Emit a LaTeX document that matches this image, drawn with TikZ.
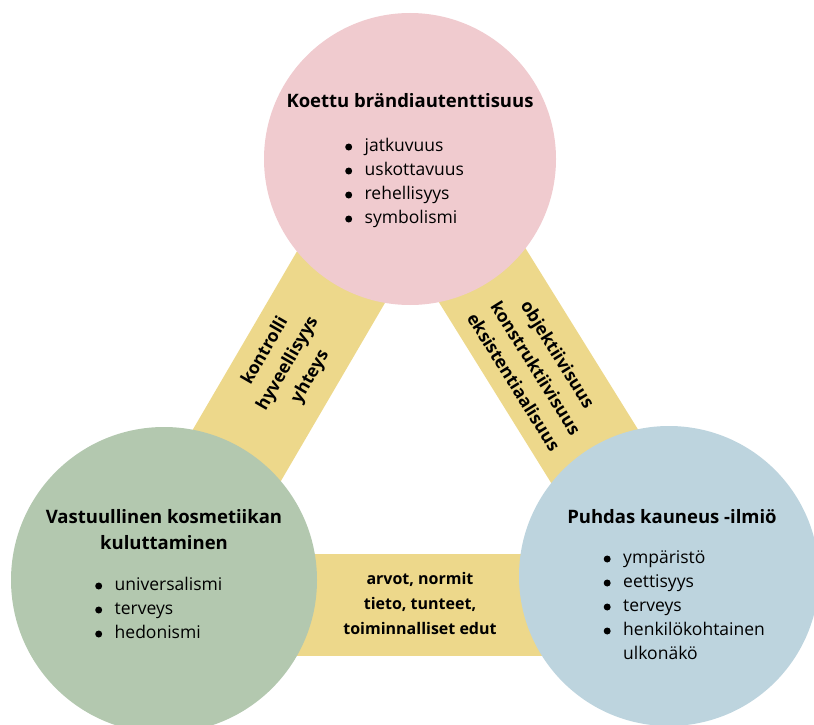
\documentclass[tikz,border=0pt]{standalone}
\usepackage{fontspec}
\setmainfont{Open Sans}
\usetikzlibrary{backgrounds}

\definecolor{brandpink}{HTML}{F0CBCF}
\definecolor{consgreen}{HTML}{B3C8AF}
\definecolor{beautyblue}{HTML}{BDD4DE}
\definecolor{bandyellow}{HTML}{EDD88B}

\tikzset{
  circ/.style={circle, minimum size=#1, inner sep=0pt},
  band/.style={draw=bandyellow, line width=102pt},
  title/.style={font=\fontsize{18.5}{26}\selectfont\bfseries, align=center, inner sep=0pt},
  bandtext/.style={font=\fontsize{17.5}{26}\selectfont\bfseries, align=center, inner sep=0pt},
  list/.style={font=\fontsize{17.5}{24}\selectfont, inner sep=0pt, anchor=west},
}
\newcommand{\dotitem}{\tikz[baseline=-4.8pt]\fill (0,0) circle (3.5pt);}
\newcommand{\blist}[1]{\begin{tabular}{@{}l@{\hspace{12.5pt}}l@{}}#1\end{tabular}}

\begin{document}
\begin{tikzpicture}[x=1pt,y=-1pt]
        \path[use as bounding box, clip] (0,0) rectangle (814,725);
        % Circles
        \node[circ=292pt, fill=brandpink] (brand) at (410,159) {};
        \node[circ=306pt, fill=consgreen] (cons) at (164,580) {};
        \node[circ=300pt, fill=beautyblue] (beauty) at (669,576) {};
        % Bands
        \coordinate (bandL) at ([yshift=-25pt]cons.center);
        \coordinate (bandR) at (bandL -| beauty.center);
        \begin{pgfonlayer}{background}
        \draw[band] (brand.center) -- (cons.center);
        \draw[band] (bandL) -- (bandR);
        \draw[band] (beauty.center) -- (brand.center);
        \end{pgfonlayer}
        % Titles
        \node[title] (brandtitle) at (410,101) {Koettu brändiautenttisuus};
        \node[title] (constitle) at (164,530) {Vastuullinen kosmetiikan\\kuluttaminen};
        \node[title] (beautytitle) at (672,517) {Puhdas kauneus -ilmiö};
        % Lists
        \node[list] (brandlist) at (345,183) {\blist{
            \dotitem & jatkuvuus\\
            \dotitem & uskottavuus\\
            \dotitem & rehellisyys\\
            \dotitem & symbolismi}};
        \node[list] (conslist) at (95,610) {\blist{
            \dotitem & universalismi\\
            \dotitem & terveys\\
            \dotitem & hedonismi}};
        \node[list] (beautylist) at (603.5,607) {\blist{
            \dotitem & ympäristö\\
            \dotitem & eettisyys\\
            \dotitem & terveys\\
            \dotitem & henkilökohtainen\\
                     & ulkonäkö}};
        % Band labels
        \node[bandtext, rotate=60] (leftlabel) at (288,364) {kontrolli\\hyveellisyys\\yhteys};
        \node[bandtext, rotate=-58] (rightlabel) at (536,368) {objektiivisuus\\konstruktiivisuus\\eksistentiaalisuus};
        \node[bandtext, font=\fontsize{16}{25}\selectfont\bfseries] (bottomlabel) at (420,603) {arvot, normit\\tieto, tunteet,\\toiminnalliset edut};
\end{tikzpicture}
\end{document}
